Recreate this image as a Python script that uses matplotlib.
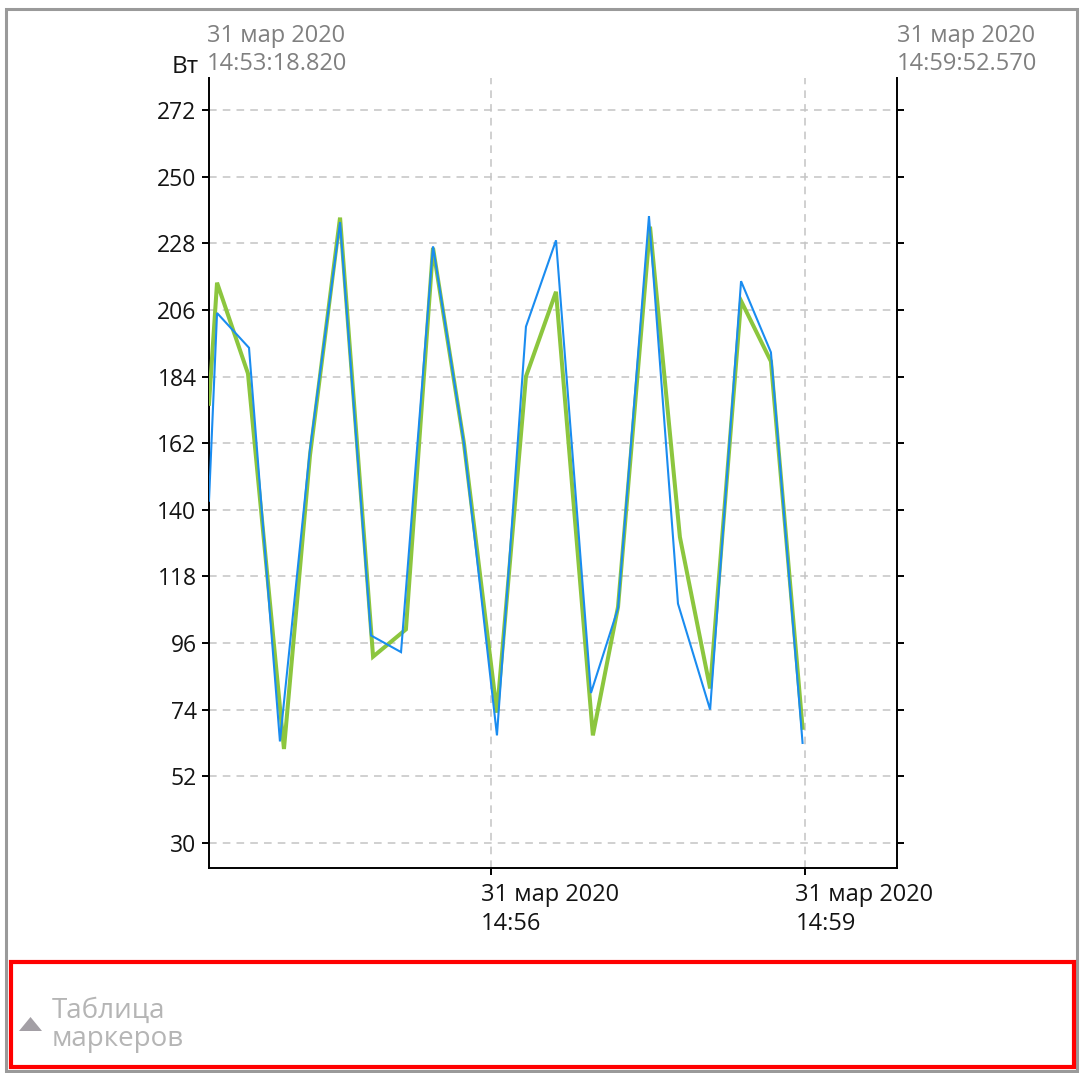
import datetime as dt
import matplotlib
matplotlib.use("Agg")
import matplotlib.pyplot as plt
import matplotlib.dates as mdates
from matplotlib.patches import Rectangle, Polygon

# ---------------- data ----------------
start_time = dt.datetime(2020, 3, 31, 14, 53, 18, 820000)
end_time = dt.datetime(2020, 3, 31, 14, 59, 52, 570000)

# seconds after start_time
blue_t = [0.0, 4.6, 22.9, 40.6, 57.8, 75.0, 92.7, 109.9, 128.2, 145.9, 164.8,
          181.4, 198.6, 218.6, 234.1, 251.8, 268.4, 286.8, 304.5, 321.6, 339.7]
blue_v = [143, 205, 193.5, 63.5, 160, 235, 98.5, 93, 227, 162, 65.5,
          200.5, 229, 79.5, 107.5, 237, 109, 74, 215.5, 192, 63]

green_t = [0.0, 4.6, 22.3, 42.9, 57.8, 75.0, 93.9, 112.7, 128.2, 145.9, 164.8,
           181.4, 198.6, 219.7, 234.1, 252.4, 269.5, 286.8, 304.5, 321.6, 339.7]
green_v = [175, 215, 185, 61, 158, 236.5, 91.5, 100.5, 226.5, 162, 73,
           184, 212, 65.5, 108, 233.5, 131, 81, 209, 189, 68]

y_ticks = [30, 52, 74, 96, 118, 140, 162, 184, 206, 228, 250, 272]
x_ticks = [dt.datetime(2020, 3, 31, 14, 56), dt.datetime(2020, 3, 31, 14, 59)]
x_tick_labels = ["31 мар 2020\n14:56", "31 мар 2020\n14:59"]
start_label = "31 мар 2020\n14:53:18.820"
end_label = "31 мар 2020\n14:59:52.570"
unit_label = "Вт"
panel_label = "Таблица\nмаркеров"

# ---------------- figure ----------------
W, H = 1081, 1073
plt.rcParams['font.family'] = ['Open Sans', 'DejaVu Sans']
fig = plt.figure(figsize=(W / 100, H / 100), dpi=100)


def fx(x):
    return x / W


def fy(y):
    return 1 - y / H


ax_left, ax_right, ax_top, ax_bottom = 209, 897, 78, 868
ax = fig.add_axes([fx(ax_left), fy(ax_bottom), (ax_right - ax_left) / W,
                   (ax_bottom - ax_top) / H])

bt = [start_time + dt.timedelta(seconds=s) for s in blue_t]
gt = [start_time + dt.timedelta(seconds=s) for s in green_t]

ax.plot(gt, green_v, color="#8cc63e", lw=2.9, solid_joinstyle="miter", zorder=3)
ax.plot(bt, blue_v, color="#1a8cf0", lw=1.5, solid_joinstyle="miter", zorder=4)

ax.set_xlim(start_time, end_time)
ax.set_ylim(21.7, 282.6)

ax.set_yticks(y_ticks)
ax.set_yticklabels([str(v) for v in y_ticks])
ax.set_xticks(x_ticks)
ax.set_xticklabels([])

ax.grid(True, which="major", color="#c4c4c4", linestyle=(0, (5, 4)), lw=1.1)
ax.set_axisbelow(True)

for side in ["left", "bottom", "right"]:
    ax.spines[side].set_color("black")
    ax.spines[side].set_linewidth(1.4)
ax.spines["top"].set_visible(False)

ax.tick_params(axis="y", which="both", left=True, right=True, direction="out",
               length=5, width=1.4, labelsize=16.5, labelcolor="#141414", pad=4)
ax.tick_params(axis="x", which="both", bottom=True, direction="out",
               length=5, width=1.4)

# bottom time labels
for t, lab in zip(x_ticks, x_tick_labels):
    ax.annotate(lab, xy=(mdates.date2num(t), 0), xycoords=("data", "axes fraction"),
                xytext=(-7, -11), textcoords="offset points", ha="left", va="top",
                fontsize=17, color="#141414", linespacing=1.25)

# top corner labels
fig.text(fx(207), fy(24), start_label, ha="left", va="top", fontsize=17,
         color="#808080", linespacing=1.25)
fig.text(fx(897), fy(24), end_label, ha="left", va="top", fontsize=17,
         color="#808080", linespacing=1.25)
fig.text(fx(199), fy(55), unit_label, ha="right", va="top", fontsize=17.5,
         color="#141414")

# outer border
fig.patches.append(Rectangle((fx(6), fy(1071)), fx(1077) - fx(6), fy(9) - fy(1071),
                             transform=fig.transFigure, fill=False,
                             edgecolor="#9a9a9a", lw=2.2))
# red box
fig.patches.append(Rectangle((fx(11), fy(1067)), fx(1074) - fx(11), fy(962) - fy(1067),
                             transform=fig.transFigure, fill=False,
                             edgecolor="#ff0000", lw=3.0))
# triangle
fig.patches.append(Polygon([(fx(19), fy(1031)), (fx(42), fy(1031)), (fx(30.5), fy(1017))],
                           closed=True, transform=fig.transFigure,
                           facecolor="#a39fa5", edgecolor="none"))
fig.text(fx(52), fy(997), panel_label, ha="left", va="top", fontsize=20,
         color="#b5b5b5", linespacing=1.0)

fig.savefig("out.png", dpi=100, facecolor="white")
